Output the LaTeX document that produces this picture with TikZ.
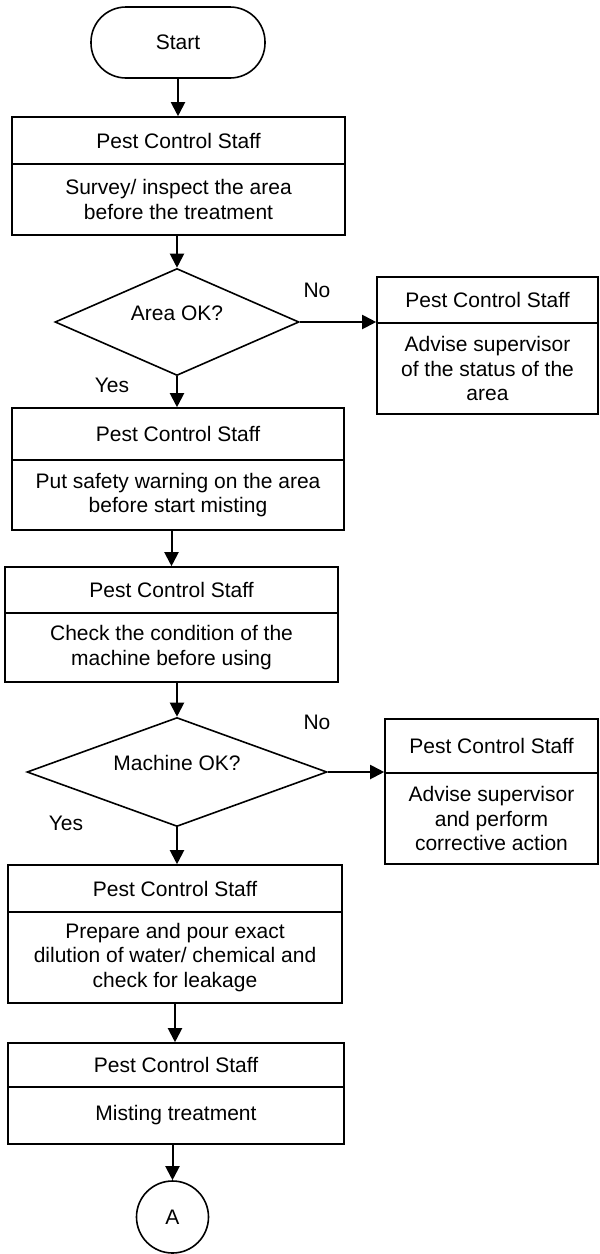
\documentclass[tikz,border=0pt]{standalone}
\usepackage{fontspec}
\setmainfont{Liberation Sans}
\usetikzlibrary{shapes.geometric,arrows.meta}
\tikzset{
  txt/.style={font=\fontsize{21}{24.5}\selectfont, inner sep=0pt, align=center},
  boxpart/.style={draw, line width=1.6pt, txt, inner sep=0pt},
  terminal/.style={draw, line width=1.6pt, txt, rounded corners=35pt, minimum width=174pt, minimum height=71pt},
  decision/.style={draw, line width=1.6pt, diamond, inner sep=0pt},
  connector/.style={draw, line width=1.6pt, circle, txt, minimum size=72pt},
  arr/.style={line width=2pt, -{Triangle[length=14pt,width=14pt]}},
  lbl/.style={txt}
}
\begin{document}
\begin{tikzpicture}[x=1pt,y=-1pt]
\useasboundingbox (0,0) rectangle (600,1254);

% Start
\node[terminal] (start) at (178,42.5) {Start};

% Box 1
\node[boxpart, minimum width=333pt, minimum height=47pt] (h1) at (178.5,140.5) {Pest Control Staff};
\node[boxpart, minimum width=333pt, minimum height=71pt] (b1) at (178.5,199.5) {Survey/ inspect the area\\before the treatment};

% Decision 1
\node[decision, minimum width=244pt, minimum height=107pt] (d1) at (177,322) {};
\node[txt] (d1t) at (177,313) {Area OK?};

% Right box 1
\node[boxpart, minimum width=221pt, minimum height=46pt] (rh1) at (487.5,300) {Pest Control Staff};
\node[boxpart, minimum width=221pt, minimum height=91pt] (rb1) at (487.5,368.5) {Advise supervisor\\of the status of the\\area};

% Box 3
\node[boxpart, minimum width=332pt, minimum height=52pt] (h3) at (178,434) {Pest Control Staff};
\node[boxpart, minimum width=332pt, minimum height=70pt] (b3) at (178,495) {Put safety warning on the area\\before start misting};

% Box 4
\node[boxpart, minimum width=333pt, minimum height=46pt] (h4) at (171.5,590) {Pest Control Staff};
\node[boxpart, minimum width=333pt, minimum height=69pt] (b4) at (171.5,647.5) {Check the condition of the\\machine before using};

% Decision 2
\node[decision, minimum width=300pt, minimum height=109pt] (d2) at (177,772) {};
\node[txt] (d2t) at (177,763) {Machine OK?};

% Right box 2
\node[boxpart, minimum width=213pt, minimum height=54pt] (rh2) at (491.5,746) {Pest Control Staff};
\node[boxpart, minimum width=213pt, minimum height=91pt] (rb2) at (491.5,818.5) {Advise supervisor\\and perform\\corrective action};

% Box 5
\node[boxpart, minimum width=334pt, minimum height=47pt] (h5) at (175,888.5) {Pest Control Staff};
\node[boxpart, minimum width=334pt, minimum height=91pt] (b5) at (175,957.5) {Prepare and pour exact\\dilution of water/ chemical and\\check for leakage};

% Box 6
\node[boxpart, minimum width=336pt, minimum height=44pt] (h6) at (176,1065) {Pest Control Staff};
\node[boxpart, minimum width=336pt, minimum height=57pt] (b6) at (176,1115.5) {Misting treatment};

% Connector A
\node[connector] (A) at (172.5,1217) {A};

% Labels
\node[lbl] (no1) at (317,290) {No};
\node[lbl] (yes1) at (112,385) {Yes};
\node[lbl] (no2) at (317,722) {No};
\node[lbl] (yes2) at (66,823) {Yes};

% Connectors
\draw[arr] (start.south) -- (start.south |- h1.north);
\draw[arr] (d1.north |- b1.south) -- (d1.north);
\draw[arr] (d1.south) -- (d1.south |- h3.north);
\draw[arr] (d1.east) -- (d1.east -| rh1.west);
\draw[arr] (h4.north |- b3.south) -- (h4.north);
\draw[arr] (d2.north |- b4.south) -- (d2.north);
\draw[arr] (d2.south) -- (d2.south |- h5.north);
\draw[arr] (d2.east) -- (d2.east -| rh2.west);
\draw[arr] (b5.south) -- (b5.south |- h6.north);
\draw[arr] (A.north |- b6.south) -- (A.north);
\end{tikzpicture}
\end{document}
